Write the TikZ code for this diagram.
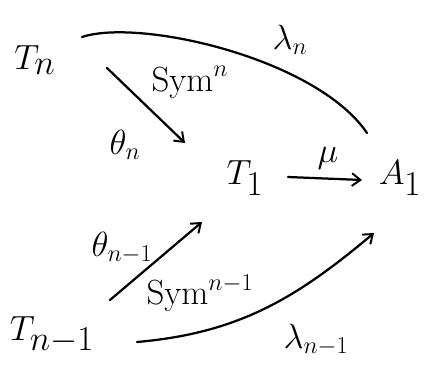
\documentclass[tikz,border=0pt]{standalone}
\usepackage{amsmath}
\usepackage{amssymb}
\usepackage{xcolor}
\usepackage{tikz}
\usetikzlibrary{arrows.meta}

\begin{document}
\begin{tikzpicture}[
    obj/.style={font=\fontsize{36}{40}\selectfont, inner sep=0pt},
    lbl/.style={font=\fontsize{24}{28}\selectfont, inner sep=0pt},
    map/.style={line width=1.6pt, line cap=round},
    tip/.style={-{Straight Barb[length=6pt, width=9pt, line width=1.4pt]}}
  ]
  \useasboundingbox (0,0) rectangle (10.625,9.225);
  % ---------- objects ----------
  \node[obj] (Tn)  at (0.875,7.725) {$T_n$};
  \node[obj] (T1)  at (6.125,4.775) {$T_1$};
  \node[obj] (A1)  at (10.0,4.775)  {$A_1$};
  \node[obj] (Tm)  at (1.3,0.85)    {$T_{n-1}$};
  % ---------- maps ----------
  \draw[map] ([shift={(1.175,0.575)}]Tn.center) .. controls
    ([shift={(2.6,1.05)}]Tn.center) and ([shift={(-2.1,3.0)}]A1.center) ..
    ([shift={(-0.825,1.125)}]A1.center);
  \draw[map, tip] ([shift={(1.8,-0.2)}]Tn.center) --
    ([shift={(-1.5,0.875)}]T1.center);
  \draw[map, tip] ([shift={(1.075,0.025)}]T1.center) --
    ([shift={(-0.95,-0.05)}]A1.center);
  \draw[map, tip] ([shift={(1.45,0.875)}]Tm.center) --
    ([shift={(-1.075,-1.1)}]T1.center);
  \draw[map, tip] ([shift={(2.125,-0.175)}]Tm.center) to[out=5, in=220]
    ([shift={(-0.65,-1.375)}]A1.center);
  % ---------- labels ----------
  \node[lbl] (ln)   at (7.25,8.225)  {$\lambda_n$};
  \node[lbl] (symn) at (4.75,7.175)  {$\mathrm{Sym}^n$};
  \node[lbl] (thn)  at (3.125,5.6)   {$\theta_n$};
  \node[lbl] (mu)   at (8.2,5.275)   {$\mu$};
  \node[lbl] (thm)  at (3.05,3.025)  {$\theta_{n-1}$};
  \node[lbl] (symm) at (5.0,1.9)     {$\mathrm{Sym}^{n-1}$};
  \node[lbl] (lm)   at (7.9,0.725)   {$\lambda_{n-1}$};
\end{tikzpicture}
\end{document}
